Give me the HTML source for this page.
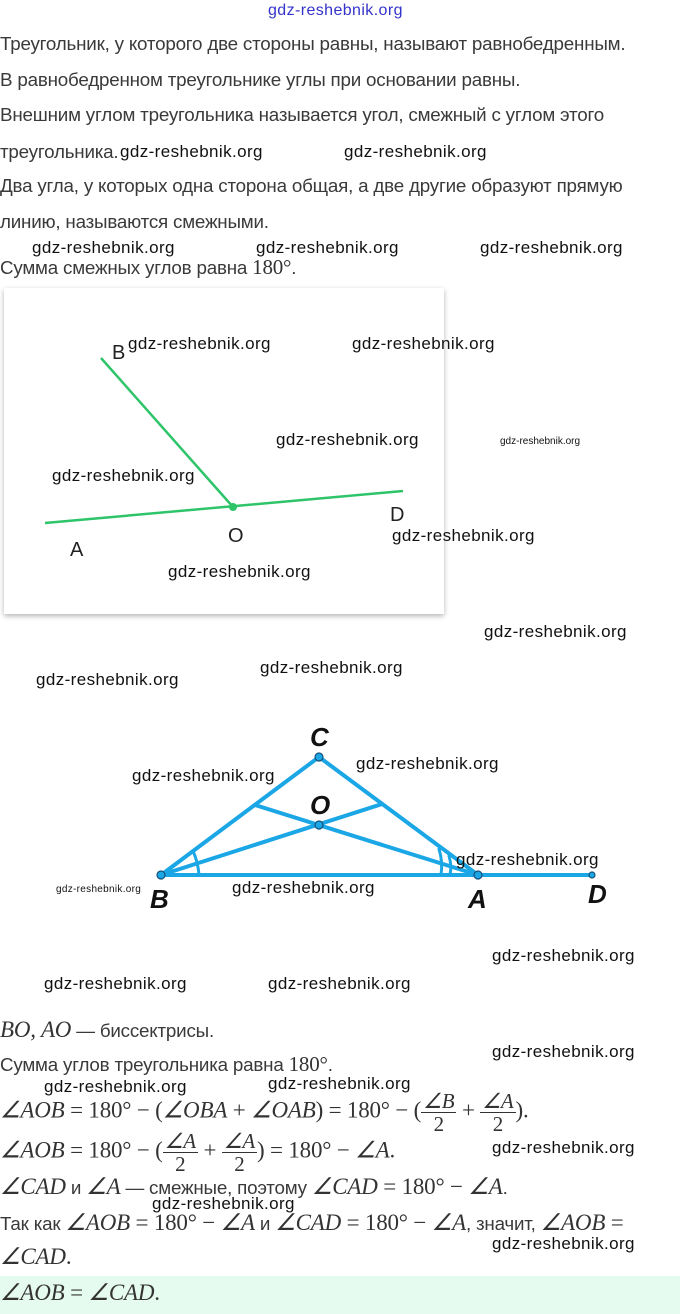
<!DOCTYPE html>
<html><head><meta charset="utf-8"><style>
body{margin:0;width:680px;height:1314px;background:#fff;position:relative;overflow:hidden;font-family:"Liberation Sans","DejaVu Sans",sans-serif}
.t{position:absolute;left:0;font-size:18.8px;color:#3a3a3a;white-space:nowrap;letter-spacing:-0.2px}
.w{position:absolute;font-size:17px;color:#111;white-space:nowrap;font-family:"Liberation Sans",sans-serif;letter-spacing:0.4px}
.m{font-family:"Liberation Serif",serif;font-style:italic;font-size:23px;color:#333}
.mr{font-family:"Liberation Serif",serif;font-size:23px;color:#333}
.fr{display:inline-block;vertical-align:middle;text-align:center;line-height:22px;font-family:"Liberation Serif",serif;font-size:21px;color:#333}
.fr span{display:block}
.fr .n{border-bottom:1px solid #333;font-style:italic;padding:0 2px}
</style></head><body>
<div class="w" style="left:268px;top:2px;color:#3333cc;font-size:16px">gdz-reshebnik.org</div>
<div class="t" style="top:33px">Треугольник, у которого две стороны равны, называют равнобедренным.</div>
<div class="t" style="top:69px">В равнобедренном треугольнике углы при основании равны.</div>
<div class="t" style="top:104px">Внешним углом треугольника называется угол, смежный с углом этого</div>
<div class="t" style="top:141px">треугольника.</div>
<div class="w" style="left:120px;top:142px">gdz-reshebnik.org</div>
<div class="w" style="left:344px;top:142px">gdz-reshebnik.org</div>
<div class="t" style="top:175px">Два угла, у которых одна сторона общая, а две другие образуют прямую</div>
<div class="t" style="top:211px">линию, называются смежными.</div>
<div class="w" style="left:32px;top:238px">gdz-reshebnik.org</div>
<div class="w" style="left:256px;top:238px">gdz-reshebnik.org</div>
<div class="w" style="left:480px;top:238px">gdz-reshebnik.org</div>
<div class="t" style="top:255px">Сумма смежных углов равна <span class="mr" style="font-size:21px">180°</span>.</div>

<div style="position:absolute;left:4px;top:288px;width:440px;height:326px;background:#fff;box-shadow:0 2px 5px rgba(0,0,0,0.3)"></div>
<svg style="position:absolute;left:0;top:0" width="680" height="1314">
<line x1="101" y1="358" x2="233" y2="507" stroke="#2ec46a" stroke-width="2.5"/>
<line x1="45" y1="523" x2="403" y2="491" stroke="#2ec46a" stroke-width="2.5"/>
<circle cx="233" cy="507" r="4" fill="#2ec46a"/>
<g font-family="Liberation Sans,sans-serif" font-size="20" fill="#222">
<text x="112" y="359">B</text><text x="228" y="542">O</text><text x="390" y="521">D</text><text x="70" y="556">A</text></g>
<g stroke="#1ba6e6" stroke-width="4" fill="none" stroke-linecap="round">
<line x1="161" y1="875" x2="592" y2="875"/>
<line x1="161" y1="875" x2="319" y2="757"/>
<line x1="319" y1="757" x2="478" y2="875"/>
<line x1="161" y1="875" x2="382" y2="804"/>
<line x1="478" y1="875" x2="255" y2="805"/>
<path d="M193 851 Q198 862 199 875" stroke-width="3"/>
<path d="M439 849 Q443 862 441 875" stroke-width="3"/>
<path d="M449 856 Q452 866 450 875" stroke-width="3"/>
</g>
<g fill="#1ba6e6" stroke="#14507a" stroke-width="1.2">
<circle cx="161" cy="875" r="4"/><circle cx="319" cy="757" r="4"/><circle cx="478" cy="875" r="4"/><circle cx="319" cy="825" r="4"/><circle cx="592" cy="875" r="3"/></g>
<g font-family="Liberation Sans,sans-serif" font-size="26" font-style="italic" font-weight="bold" fill="#111">
<text x="310" y="746">C</text><text x="310" y="814">O</text><text x="150" y="908">B</text><text x="468" y="908">A</text><text x="588" y="903">D</text></g>
</svg>
<div class="w" style="left:128px;top:334px">gdz-reshebnik.org</div>
<div class="w" style="left:352px;top:334px">gdz-reshebnik.org</div>
<div class="w" style="left:276px;top:430px">gdz-reshebnik.org</div>
<div class="w" style="left:500px;top:436px;font-size:10px;letter-spacing:0">gdz-reshebnik.org</div>
<div class="w" style="left:52px;top:466px">gdz-reshebnik.org</div>
<div class="w" style="left:392px;top:526px">gdz-reshebnik.org</div>
<div class="w" style="left:168px;top:562px">gdz-reshebnik.org</div>
<div class="w" style="left:484px;top:622px">gdz-reshebnik.org</div>
<div class="w" style="left:260px;top:658px">gdz-reshebnik.org</div>
<div class="w" style="left:36px;top:670px">gdz-reshebnik.org</div>
<div class="w" style="left:132px;top:766px">gdz-reshebnik.org</div>
<div class="w" style="left:356px;top:754px">gdz-reshebnik.org</div>
<div class="w" style="left:456px;top:850px">gdz-reshebnik.org</div>
<div class="w" style="left:56px;top:884px;font-size:10px;letter-spacing:0.3px">gdz-reshebnik.org</div>
<div class="w" style="left:232px;top:878px">gdz-reshebnik.org</div>
<div class="w" style="left:492px;top:946px">gdz-reshebnik.org</div>
<div class="w" style="left:44px;top:974px">gdz-reshebnik.org</div>
<div class="w" style="left:268px;top:974px">gdz-reshebnik.org</div>

<div class="t" style="top:1017px"><span class="m">BO, AO</span> — биссектрисы.</div>
<div class="w" style="left:492px;top:1042px">gdz-reshebnik.org</div>
<div class="t" style="top:1052px">Сумма углов треугольника равна <span class="mr" style="font-size:21px">180°</span>.</div>
<div class="w" style="left:44px;top:1077px">gdz-reshebnik.org</div>
<div class="w" style="left:268px;top:1074px">gdz-reshebnik.org</div>
<div class="t" style="top:1090px"><span class="m">∠AOB</span><span class="mr"> = 180° − (</span><span class="m">∠OBA</span><span class="mr"> + </span><span class="m">∠OAB</span><span class="mr">) = 180° − (</span><span class="fr"><span class="n">∠B</span><span>2</span></span><span class="mr"> + </span><span class="fr"><span class="n">∠A</span><span>2</span></span><span class="mr">).</span></div>
<div class="t" style="top:1130px"><span class="m">∠AOB</span><span class="mr"> = 180° − (</span><span class="fr"><span class="n">∠A</span><span>2</span></span><span class="mr"> + </span><span class="fr"><span class="n">∠A</span><span>2</span></span><span class="mr">) = 180° − </span><span class="m">∠A</span><span class="mr">.</span></div>
<div class="w" style="left:492px;top:1138px">gdz-reshebnik.org</div>
<div class="t" style="top:1174px"><span class="m">∠CAD</span> и <span class="m">∠A</span> — смежные, поэтому <span class="m">∠CAD</span><span class="mr"> = 180° − </span><span class="m">∠A</span>.</div>
<div class="w" style="left:152px;top:1194px">gdz-reshebnik.org</div>
<div class="t" style="top:1210px">Так как <span class="m">∠AOB</span><span class="mr"> = 180° − </span><span class="m">∠A</span> и <span class="m">∠CAD</span><span class="mr"> = 180° − </span><span class="m">∠A</span>, значит, <span class="m">∠AOB</span><span class="mr"> =</span></div>
<div class="w" style="left:492px;top:1234px">gdz-reshebnik.org</div>
<div class="t" style="top:1244px"><span class="m">∠CAD</span><span class="mr">.</span></div>
<div style="position:absolute;left:0;top:1276px;width:680px;height:38px;background:#e6fbef"></div>
<div class="t" style="top:1280px"><span class="m">∠AOB</span><span class="mr"> = </span><span class="m">∠CAD</span><span class="mr">.</span></div>
</body></html>
